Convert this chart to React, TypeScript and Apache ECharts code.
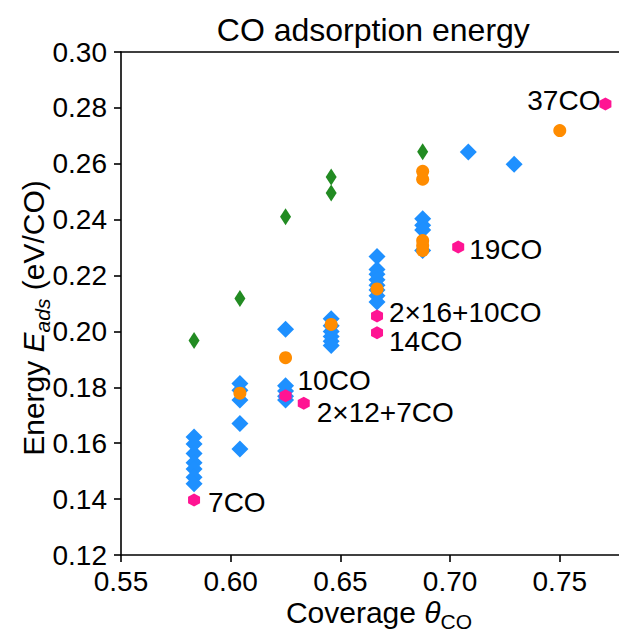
import React, { useEffect, useRef } from "react";
import * as echarts from "echarts";

const FONT = "'Liberation Sans', Arial, Helvetica, sans-serif";

// ---- data ----
const blueCoverage = [
  0.5833, 0.5833, 0.5833, 0.5833, 0.5833, 0.5833, 0.5833,
  0.6042, 0.6042, 0.6042, 0.6042, 0.6042,
  0.625, 0.625, 0.625, 0.625, 0.625,
  0.6458, 0.6458, 0.6458, 0.6458, 0.6458, 0.6458,
  0.6667, 0.6667, 0.6667, 0.6667, 0.6667, 0.6667, 0.6667, 0.6667,
  0.6875, 0.6875, 0.6875, 0.6875,
  0.7083, 0.7292,
];
const blueEnergy = [
  0.1622, 0.1597, 0.1563, 0.153, 0.1508, 0.1478, 0.1455,
  0.1814, 0.179, 0.1755, 0.1671, 0.1579,
  0.2008, 0.1806, 0.1787, 0.1768, 0.1755,
  0.2045, 0.202, 0.2, 0.1982, 0.1965, 0.195,
  0.2268, 0.2222, 0.2205, 0.2185, 0.2165, 0.2148, 0.2128, 0.2105,
  0.2403, 0.238, 0.2363, 0.229,
  0.2642, 0.2598,
];

const greenCoverage = [0.5833, 0.6042, 0.625, 0.6458, 0.6458, 0.6875];
const greenEnergy = [0.1968, 0.2118, 0.241, 0.2553, 0.2495, 0.2643];

const orangeCoverage = [0.6042, 0.625, 0.6458, 0.6667, 0.6875, 0.6875, 0.6875, 0.6875, 0.6875, 0.75];
const orangeEnergy = [0.1779, 0.1906, 0.2025, 0.2152, 0.2573, 0.2545, 0.2325, 0.2308, 0.229, 0.2719];

const pinkCoverage = [0.5833, 0.625, 0.6333, 0.6667, 0.6667, 0.7037, 0.7708];
const pinkEnergy = [0.1397, 0.177, 0.1743, 0.2055, 0.1995, 0.2302, 0.2814];
const pinkLabels = ["7CO", "10CO", "2×12+7CO", "2×16+10CO", "14CO", "19CO", "37CO"];

const xTicks = { min: 0.55, max: 0.78, interval: 0.05 };
const yTicks = { min: 0.12, max: 0.3, interval: 0.02 };

// ---- layout (not data) ----
const labelLayout: { pos: "right" | "left"; offset: [number, number] }[] = [
  { pos: "right", offset: [8, 3] },
  { pos: "right", offset: [6, -15] },
  { pos: "right", offset: [7, 9] },
  { pos: "right", offset: [6, -4] },
  { pos: "right", offset: [6, 9] },
  { pos: "right", offset: [5, 2] },
  { pos: "left", offset: [1, -3] },
];

const HEX = "path://M0,-100L86.6,-50L86.6,50L0,100L-86.6,50L-86.6,-50Z";

function pairs(xs: number[], ys: number[]) {
  return xs.map((x, i) => [x, ys[i]]);
}

export default function App() {
  const ref = useRef<HTMLDivElement>(null);
  useEffect(() => {
    if (!ref.current) return;
    const chart = echarts.init(ref.current, null, { renderer: "svg" });
    const axisLine = { show: true, lineStyle: { color: "#000", width: 1.6 } };
    const axisTick = { show: true, inside: false, length: 7, lineStyle: { color: "#000", width: 1.6 } };
    const labelBase = { fontSize: 28, color: "#000", fontFamily: FONT };
    const gridLeft = 121;
    const gridWidth = 504.6;
    const plotCx = gridLeft + gridWidth / 2;
    const richAxis = (subItalic: boolean) => ({
      n: { fontSize: 30, fontFamily: FONT, lineHeight: 40, verticalAlign: "middle", fill: "#000" },
      i: { fontSize: 30, fontFamily: FONT, fontStyle: "italic", lineHeight: 40, verticalAlign: "middle", fill: "#000" },
      s: {
        fontSize: 21,
        fontFamily: FONT,
        fontStyle: subItalic ? "italic" : "normal",
        lineHeight: 21,
        verticalAlign: "bottom",
        fill: "#000",
      },
    });

    chart.setOption({
      animation: false,
      backgroundColor: "#fff",
      grid: {
        left: gridLeft,
        top: 52,
        width: gridWidth,
        height: 503,
        show: false,
      },
      xAxis: [
        {
          type: "value",
          min: xTicks.min,
          max: xTicks.max,
          interval: xTicks.interval,
          axisLine,
          axisTick,
          splitLine: { show: false },
          axisLabel: {
            ...labelBase,
            margin: 12,
            showMaxLabel: false,
            formatter: (v: number) => v.toFixed(2),
          },
        },
        {
          type: "value",
          position: "top",
          min: xTicks.min,
          max: xTicks.max,
          interval: xTicks.interval,
          axisLine,
          axisTick: { show: false },
          axisLabel: { show: false },
          splitLine: { show: false },
        },
      ],
      yAxis: {
        type: "value",
        min: yTicks.min,
        max: yTicks.max,
        interval: yTicks.interval,
        axisLine,
        axisTick,
        splitLine: { show: false },
        axisLabel: {
          ...labelBase,
          margin: 14,
          formatter: (v: number) => v.toFixed(2),
        },
      },
      graphic: [
        {
          type: "text",
          x: plotCx,
          y: 30,
          style: {
            text: "CO adsorption energy",
            fontSize: 32,
            fontFamily: FONT,
            fill: "#000",
            align: "center",
            verticalAlign: "middle",
          },
        },
        {
          type: "text",
          x: 379,
          y: 612,
          style: {
            text: "{n|Coverage }{i|θ}{s|CO}",
            fill: "#000",
            align: "center",
            verticalAlign: "middle",
            rich: richAxis(false),
          },
        },
        {
          type: "text",
          x: 33,
          y: 318,
          rotation: Math.PI / 2,
          style: {
            text: "{n|Energy }{i|E}{s|ads}{n| (eV/CO)}",
            fill: "#000",
            align: "center",
            verticalAlign: "middle",
            rich: richAxis(true),
          },
        },
      ],
      series: [
        {
          type: "scatter",
          silent: true,
          symbol: "diamond",
          symbolSize: [17, 17],
          itemStyle: { color: "#1e90ff", opacity: 1 },
          data: pairs(blueCoverage, blueEnergy),
        },
        {
          type: "scatter",
          silent: true,
          symbol: "diamond",
          symbolSize: [11, 17],
          itemStyle: { color: "#228b22", opacity: 1 },
          data: pairs(greenCoverage, greenEnergy),
        },
        {
          type: "scatter",
          silent: true,
          symbol: "circle",
          symbolSize: 13,
          itemStyle: { color: "#ff8c00", opacity: 1 },
          data: pairs(orangeCoverage, orangeEnergy),
        },
        {
          type: "scatter",
          silent: true,
          symbol: HEX,
          symbolSize: [12, 13],
          itemStyle: { color: "#ff1493", opacity: 1 },
          data: pinkCoverage.map((x, i) => ({
            value: [x, pinkEnergy[i]],
            label: {
              show: true,
              formatter: pinkLabels[i],
              position: labelLayout[i].pos,
              distance: 0,
              offset: labelLayout[i].offset,
              fontSize: 28,
              fontFamily: FONT,
              color: "#000",
              opacity: 1,
            },
          })),
        },
      ],
    });
    return () => chart.dispose();
  }, []);

  return (
    <div
      style={{ position: "absolute", left: 0, top: 0, width: 619, height: 632, overflow: "hidden", background: "#fff" }}
    >
      <div ref={ref} style={{ width: 640, height: 632 }} />
    </div>
  );
}
